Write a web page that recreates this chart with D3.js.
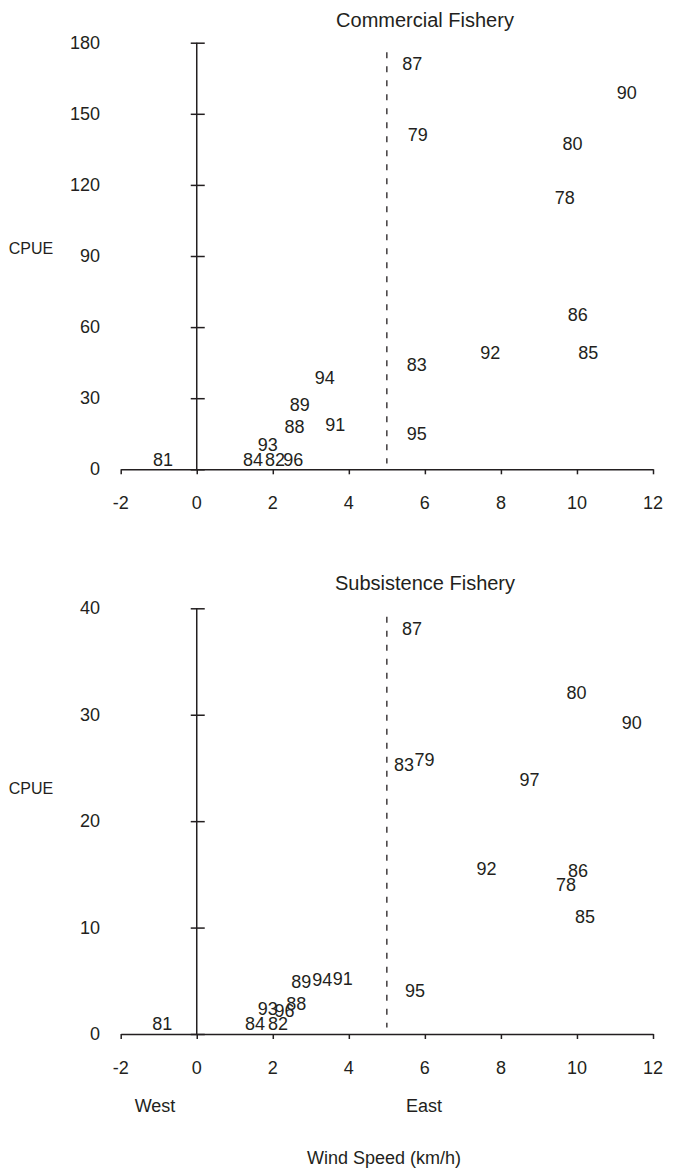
<!DOCTYPE html>
<html><head><meta charset="utf-8">
<script src="https://cdn.jsdelivr.net/npm/d3@7"></script>
<style>
body{margin:0;background:#fff}
text{font-family:"Liberation Sans",Arial,sans-serif;fill:#231f20}
</style>
</head><body>
<svg id="chart" width="675" height="1170"></svg>
<script>
// ---- data ----
const xTickValues = [-2, 0, 2, 4, 6, 8, 10, 12];
const commercialTicks = [0, 30, 60, 90, 120, 150, 180];
const subsistenceTicks = [0, 10, 20, 30, 40];

const commercialYears = ["78","79","80","81","82","83","84","85","86","87","88","89","90","91","92","93","94","95","96"];
const commercialWind  = [9.68, 5.81, 9.88, -0.89, 2.06, 5.79, 1.48, 10.30, 10.02, 5.67, 2.57, 2.71, 11.31, 3.64, 7.72, 1.87, 3.37, 5.79, 2.54];
const commercialCPUE  = [114.4, 141.1, 137.2, 4.0, 4.0, 44.0, 4.0, 49.1, 65.2, 171.1, 17.7, 27.3, 158.9, 18.5, 49.1, 10.4, 38.7, 14.7, 4.0];

const subsistenceYears = ["78","79","80","81","82","83","84","85","86","87","88","89","90","91","92","93","94","95","96","97"];
const subsistenceWind  = [9.71, 5.99, 9.99, -0.91, 2.14, 5.45, 1.53, 10.21, 10.03, 5.66, 2.62, 2.75, 11.44, 3.84, 7.62, 1.87, 3.30, 5.74, 2.31, 8.75];
const subsistenceCPUE  = [14.0, 25.7, 32.0, 0.94, 0.94, 25.3, 0.94, 11.0, 15.3, 38.1, 2.8, 4.86, 29.2, 5.17, 15.5, 2.35, 5.1, 4.0, 2.2, 23.9];

const dividerWind = 5;
const commercialDivider = [2.5, 176];
const subsistenceDivider = [0.6, 39.2];

// ---- layout ----
const svg = d3.select("#chart");
const ink = "#231f20";
const x = d3.scaleLinear().domain([-2, 12]).range([120.7, 653]);

const panels = [
  {title: "Commercial Fishery", years: commercialYears, wind: commercialWind, cpue: commercialCPUE,
   ticks: commercialTicks, top: 42.7, bottom: 469.3, titleY: 20, cpueY: 248, divider: commercialDivider},
  {title: "Subsistence Fishery", years: subsistenceYears, wind: subsistenceWind, cpue: subsistenceCPUE,
   ticks: subsistenceTicks, top: 608.3, bottom: 1034, titleY: 583, cpueY: 788, divider: subsistenceDivider}
];

panels.forEach(p => {
  const g = svg.append("g");
  const y = d3.scaleLinear().domain([0, d3.max(p.ticks)]).range([p.bottom, p.top]);

  // x axis
  const xa = g.append("g").attr("transform", `translate(0,${p.bottom})`)
    .call(d3.axisBottom(x).tickValues(xTickValues).tickSize(5).tickSizeOuter(0).tickFormat(""));
  xa.select(".domain").attr("stroke", ink).attr("stroke-width", 1.5);
  xa.selectAll(".tick line").attr("stroke", ink).attr("stroke-width", 1.5);

  g.selectAll(".xlab").data(xTickValues).join("text")
    .attr("x", d => x(d)).attr("y", p.bottom + 34)
    .attr("text-anchor", "middle").attr("dominant-baseline", "central")
    .attr("font-size", 18).text(d => d);

  // y axis at wind = 0
  const ya = g.append("g").attr("transform", `translate(${x(0) - 6},0)`)
    .call(d3.axisLeft(y).tickValues(p.ticks).tickSize(-14).tickFormat(""));
  ya.select(".domain").remove();
  ya.selectAll(".tick line").attr("stroke", ink).attr("stroke-width", 1.5);
  g.append("line").attr("x1", x(0)).attr("x2", x(0))
    .attr("y1", y(0)).attr("y2", y(d3.max(p.ticks)))
    .attr("stroke", ink).attr("stroke-width", 1.5);

  g.selectAll(".ylab").data(p.ticks).join("text")
    .attr("x", 100).attr("y", d => y(d))
    .attr("text-anchor", "end").attr("dominant-baseline", "central")
    .attr("font-size", 18).text(d => d);

  // divider
  g.append("line").attr("x1", x(dividerWind)).attr("x2", x(dividerWind))
    .attr("y1", y(p.divider[1])).attr("y2", y(p.divider[0]))
    .attr("stroke", ink).attr("stroke-width", 1.3).attr("stroke-dasharray", "6,8");

  // year labels
  g.selectAll(".pt").data(p.years).join("text")
    .attr("x", (d, i) => x(p.wind[i])).attr("y", (d, i) => y(p.cpue[i]))
    .attr("text-anchor", "middle").attr("dominant-baseline", "central")
    .attr("font-size", 18).text(d => d);

  // title
  g.append("text").attr("x", 425).attr("y", p.titleY)
    .attr("text-anchor", "middle").attr("dominant-baseline", "central")
    .attr("font-size", 20).text(p.title);

  // CPUE
  g.append("text").attr("x", 31).attr("y", p.cpueY)
    .attr("text-anchor", "middle").attr("dominant-baseline", "central")
    .attr("font-size", 16).text("CPUE");
});

svg.append("text").attr("x", 155).attr("y", 1106).attr("text-anchor", "middle")
  .attr("dominant-baseline", "central").attr("font-size", 18).text("West");
svg.append("text").attr("x", 424).attr("y", 1106).attr("text-anchor", "middle")
  .attr("dominant-baseline", "central").attr("font-size", 18).text("East");
svg.append("text").attr("x", 384).attr("y", 1158).attr("text-anchor", "middle")
  .attr("dominant-baseline", "central").attr("font-size", 18).text("Wind Speed (km/h)");
</script>
</body></html>
